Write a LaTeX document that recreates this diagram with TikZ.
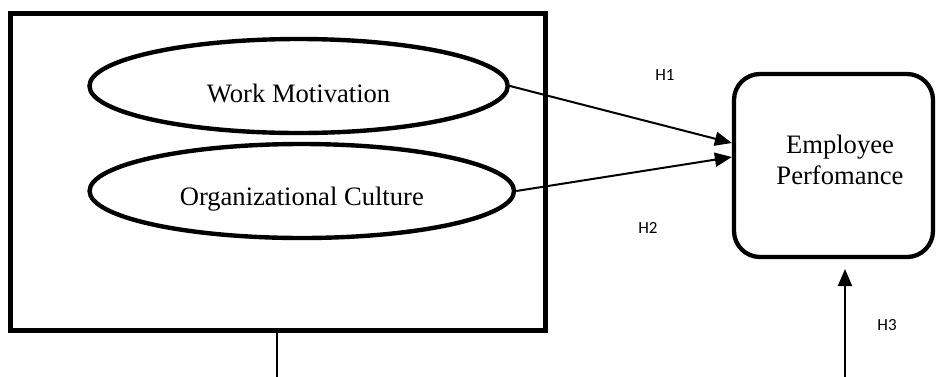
\documentclass[tikz,border=0pt]{standalone}
\usepackage{fontspec}
\setmainfont{Liberation Serif}
\newfontfamily\hfont{Carlito}
\usetikzlibrary{shapes.geometric,arrows.meta}
\newcommand{\lowtext}[2]{\raisebox{-#1}[0pt][0pt]{#2}}
\begin{document}
\begin{tikzpicture}[x=1pt,y=-1pt,
  frame/.style={draw,line width=5pt,inner sep=0pt,minimum width=534.2pt,minimum height=316.8pt},
  construct/.style={draw,ellipse,line width=4.4pt,inner sep=0pt,minimum height=94pt,font=\fontsize{26.6}{31}\selectfont},
  outcome/.style={draw,rounded corners=26pt,line width=4.3pt,inner sep=0pt,minimum width=199pt,minimum height=183pt},
  bodytext/.style={align=center,inner sep=0pt,font=\fontsize{26.6}{31}\selectfont},
  hlabel/.style={inner sep=0pt,font=\hfont\fontsize{17}{20}\selectfont},
  link/.style={line width=2pt,-{Triangle[length=17pt,width=14pt]}},
  plain/.style={line width=2pt}]
\useasboundingbox (0,0) rectangle (936,376);
\node[frame] (box) at (277.9,171.6) {};
\node[construct,minimum width=418.3pt] (wm) at (298.6,86) {\lowtext{16pt}{Work Motivation}};
\node[construct,minimum width=424.5pt] (oc) at (301.8,191) {\lowtext{14pt}{Organizational Culture}};
\node[outcome] (ep) at (833.5,165.5) {};
\node[bodytext] (eptext) at (840,159.5) {Employee\\Perfomance};
\coordinate (boxdown) at (277.3,380);
\coordinate (h3start) at (845,380);
\coordinate (h3tip) at (845,269);
\draw[link] (wm.east) -- ([yshift=22.5pt]ep.west);
\draw[link] (oc.east) -- ([yshift=8.5pt]ep.west);
\draw[plain] (box.south -| boxdown) -- (boxdown);
\draw[link] (h3start) -- (h3tip);
\node[hlabel] (h1) at (665,75) {H1};
\node[hlabel] (h2) at (648,228) {H2};
\node[hlabel] (h3) at (887,325) {H3};
\end{tikzpicture}
\end{document}
